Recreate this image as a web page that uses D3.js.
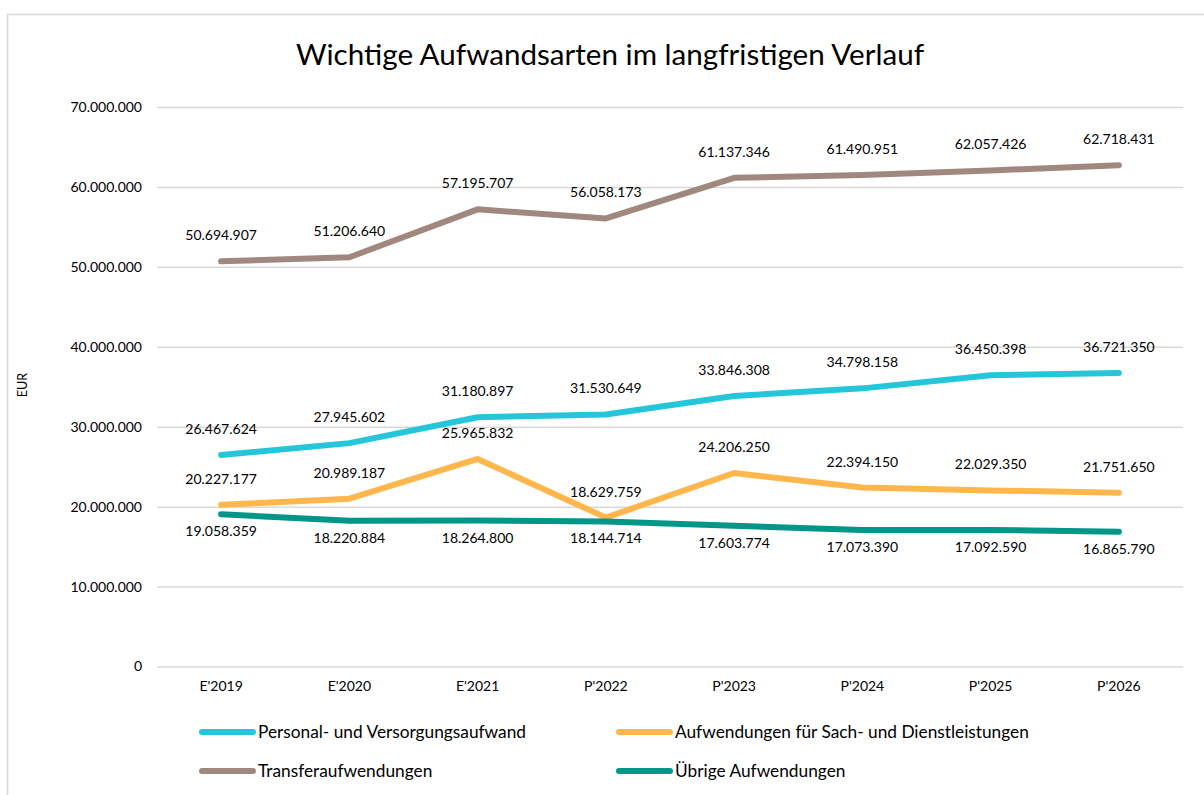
<!DOCTYPE html>
<html><head><meta charset="utf-8">
<script src="https://cdn.jsdelivr.net/npm/d3@7"></script>
<style>body{margin:0;background:#fff;font-family:Lato,"Open Sans",sans-serif}</style>
</head><body>
<svg id="c" width="1204" height="795"></svg>
<script>
const categories = ["E'2019","E'2020","E'2021","P'2022","P'2023","P'2024","P'2025","P'2026"];
const personal = [26467624,27945602,31180897,31530649,33846308,34798158,36450398,36721350];
const sach = [20227177,20989187,25965832,18629759,24206250,22394150,22029350,21751650];
const transfer = [50694907,51206640,57195707,56058173,61137346,61490951,62057426,62718431];
const uebrige = [19058359,18220884,18264800,18144714,17603774,17073390,17092590,16865790];
const yTicks = [0,10000000,20000000,30000000,40000000,50000000,60000000,70000000];
const seriesNames = ["Personal- und Versorgungsaufwand","Aufwendungen für Sach- und Dienstleistungen","Transferaufwendungen","Übrige Aufwendungen"];

const series = [
  {name: seriesNames[0], values: personal, color: "#26C6DA", pos: "above"},
  {name: seriesNames[1], values: sach, color: "#FFB74D", pos: "above"},
  {name: seriesNames[2], values: transfer, color: "#A1887F", pos: "above"},
  {name: seriesNames[3], values: uebrige, color: "#009688", pos: "below"}
];
const fmt = v => d3.format(",")(v).replace(/,/g, ".");

const svg = d3.select("#c");
svg.append("rect").attr("x",7.5).attr("y",14.5).attr("width",1210).attr("height",800)
  .attr("fill","#fff").attr("stroke","#d9d9d9").attr("stroke-width",1.5);

const pLeft = 157, pRight = 1183, pTop = 107, pBottom = 666.5;
const x = d3.scaleBand().domain(categories).range([pLeft, pRight]);
const y = d3.scaleLinear().domain([0, 70000000]).range([pBottom, pTop]);

svg.append("text").attr("x", 610).attr("y", 65).attr("text-anchor","middle")
  .attr("font-size", 29.6).attr("fill","#000").text("Wichtige Aufwandsarten im langfristigen Verlauf");

const yAxis = d3.axisLeft(y).tickValues(yTicks).tickSize(-(pRight-pLeft)).tickPadding(15).tickFormat(fmt);
const gy = svg.append("g").attr("transform", `translate(${pLeft},0)`).call(yAxis);
gy.select(".domain").remove();
gy.selectAll(".tick line").attr("stroke","#d9d9d9").attr("stroke-width",1.5);
gy.selectAll(".tick text").attr("font-size",14).attr("font-family","Lato").attr("fill","#000");

const xAxis = d3.axisBottom(x).tickSize(0).tickPadding(15);
const gx = svg.append("g").attr("transform", `translate(0,${pBottom})`).call(xAxis);
gx.select(".domain").remove();
gx.selectAll(".tick text").attr("font-size",14).attr("font-family","Lato").attr("fill","#000");

svg.append("text").attr("transform","translate(27,385) rotate(-90)").attr("text-anchor","middle")
  .attr("font-size",12.5).attr("fill","#000").text("EUR");

const line = d3.line().x((d,i)=>x(categories[i]) + x.bandwidth()/2).y(d=>y(d));
series.forEach(s => {
  svg.append("path").attr("d", line(s.values)).attr("fill","none").attr("stroke", s.color)
    .attr("stroke-width",6).attr("stroke-linecap","round").attr("stroke-linejoin","round");
});
series.forEach(s => {
  svg.append("g").selectAll("text").data(s.values).join("text")
    .attr("x",(d,i)=>x(categories[i]) + x.bandwidth()/2)
    .attr("y", d => s.pos === "above" ? y(d) - 21 : y(d) + 22)
    .attr("text-anchor","middle").attr("font-size",14).attr("fill","#000")
    .text(fmt);
});

const legendPos = [[200,732],[617,732],[200,771],[617,771]];
series.forEach((s,i) => {
  const [lx, ly] = legendPos[i];
  svg.append("line").attr("x1",lx+2).attr("x2",lx+53).attr("y1",ly).attr("y2",ly)
    .attr("stroke",s.color).attr("stroke-width",6).attr("stroke-linecap","round");
  svg.append("text").attr("x",lx+58).attr("y",ly+6).attr("font-size",17.3).attr("fill","#000").text(s.name);
});
</script>
</body></html>
